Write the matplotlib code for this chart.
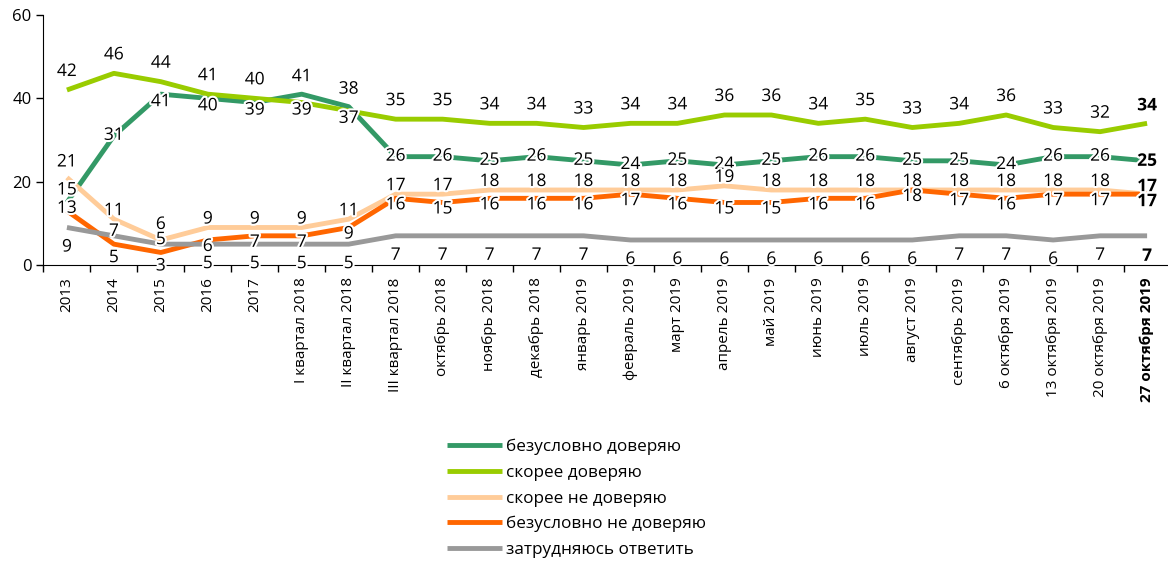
import numpy as np
import matplotlib
matplotlib.use('Agg')
import matplotlib.pyplot as plt
import matplotlib.patheffects as pe

plt.rcParams['font.family'] = ['Open Sans', 'DejaVu Sans']

# categories along x
periods = ['2013', '2014', '2015', '2016', '2017',
           'I квартал 2018', 'II квартал 2018', 'III квартал 2018',
           'октябрь 2018', 'ноябрь 2018', 'декабрь 2018',
           'январь 2019', 'февраль 2019', 'март 2019', 'апрель 2019',
           'май 2019', 'июнь 2019', 'июль 2019', 'август 2019',
           'сентябрь 2019', '6 октября 2019', '13 октября 2019',
           '20 октября 2019', '27 октября 2019']

# series values, %
trust_full = [15, 31, 41, 40, 39, 41, 38, 26, 26, 25, 26, 25, 24, 25, 24, 25,
              26, 26, 25, 25, 24, 26, 26, 25]
trust_rather = [42, 46, 44, 41, 40, 39, 37, 35, 35, 34, 34, 33, 34, 34, 36, 36,
                34, 35, 33, 34, 36, 33, 32, 34]
distrust_rather = [21, 11, 6, 9, 9, 9, 11, 17, 17, 18, 18, 18, 18, 18, 19, 18,
                   18, 18, 18, 18, 18, 18, 18, 17]
distrust_full = [13, 5, 3, 6, 7, 7, 9, 16, 15, 16, 16, 16, 17, 16, 15, 15,
                 16, 16, 18, 17, 16, 17, 17, 17]
hard_to_say = [9, 7, 5, 5, 5, 5, 5, 7, 7, 7, 7, 7, 6, 6, 6, 6,
               6, 6, 6, 7, 7, 6, 7, 7]

labels = ['безусловно доверяю', 'скорее доверяю', 'скорее не доверяю',
          'безусловно не доверяю', 'затрудняюсь ответить']
colors = ['#339966', '#99cc00', '#ffcc99', '#ff6600', '#999999']

fig = plt.figure(figsize=(11.68, 5.69), dpi=100)
ax = fig.add_axes([0.0372, 0.5343, 0.965, 0.4393])

x = np.arange(len(periods))
series = [trust_full, trust_rather, distrust_rather, distrust_full, hard_to_say]
for vals, lab, col in zip(series, labels, colors):
    ax.plot(x, vals, color=col, lw=3.5, label=lab, solid_capstyle='butt')

# data labels (offset in pixels, negative = above)
stroke = [pe.withStroke(linewidth=3, foreground='white')]
last = len(periods) - 1
def put(i, v, dy):
    ax.annotate(str(v), (i, v), xytext=(0, -dy * 0.72), textcoords='offset points',
                ha='center', va='center', fontsize=12.5,
                fontweight='bold' if i == last else 'normal',
                path_effects=stroke, zorder=5)

for i in range(len(periods)):
    dg, lg = trust_full[i], trust_rather[i]
    pr, of, gr = distrust_rather[i], distrust_full[i], hard_to_say[i]
    if dg < pr:
        put(i, dg, -12)
    elif dg > lg:
        put(i, dg, -17)
    else:
        put(i, dg, 8 if lg - dg <= 3 else 0)
    put(i, lg, 8 if dg > lg else -18)
    put(i, pr, -15 if pr - min(of, gr) <= 3 or dg < pr else -8)
    if of < gr:
        put(i, gr, -4)
        put(i, of, 14)
    else:
        put(i, of, -2 if dg < pr else 7)
        put(i, gr, 20)

ax.set_xlim(-0.5, len(periods) - 0.5)
ax.set_ylim(0, 60)
ax.set_yticks([0, 20, 40, 60])
ax.tick_params(axis='y', labelsize=12, length=5, width=1)
ax.set_xticks(x)
ax.set_xticklabels(periods, rotation=90, fontsize=11)
for t in ax.get_xticklabels()[-1:]:
    t.set_fontweight('bold')
ax.set_xticks(np.arange(-0.5, len(periods)), minor=True)
ax.tick_params(axis='x', which='major', length=0, pad=9)
ax.tick_params(axis='x', which='minor', length=5, width=1)
ax.spines['top'].set_visible(False)
ax.spines['right'].set_visible(False)

fig.legend(loc='upper left', bbox_to_anchor=(447 / 1168, 1 - 439 / 569),
           frameon=False, fontsize=12.3, handlelength=3.2, handletextpad=0.25,
           labelspacing=0.56, borderpad=0, borderaxespad=0)

fig.savefig('out.png', dpi=100)
